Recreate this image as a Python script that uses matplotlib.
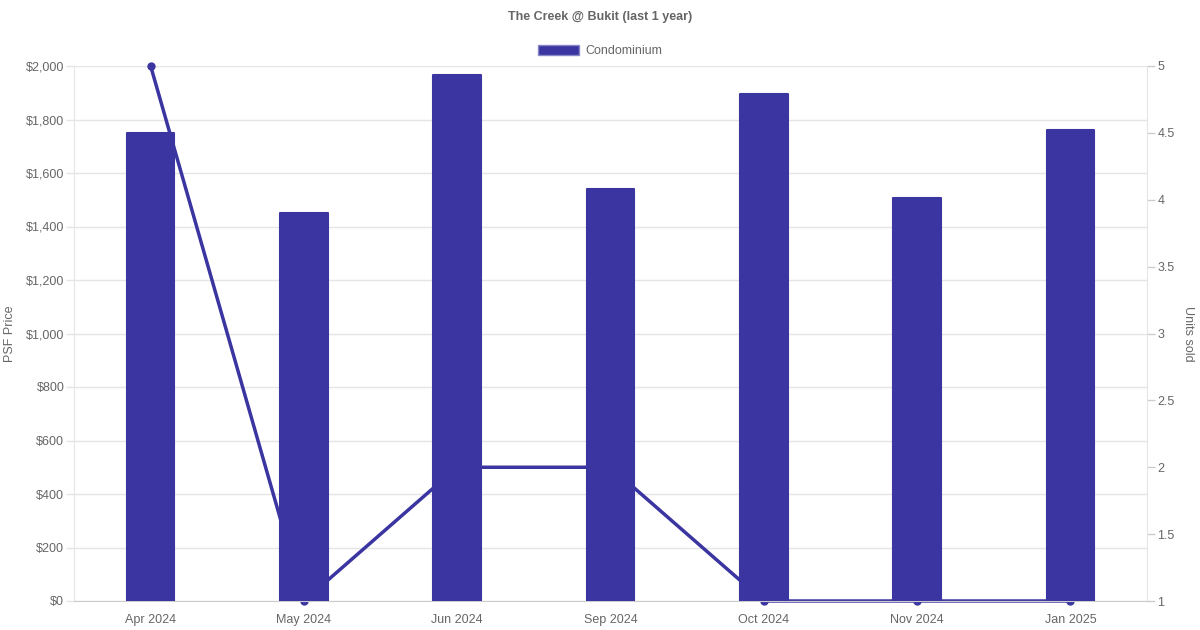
import matplotlib.pyplot as plt
from matplotlib.ticker import FuncFormatter, MultipleLocator
from matplotlib.patches import Patch
from matplotlib.transforms import blended_transform_factory

plt.rcParams['font.family'] = ['Liberation Sans', 'DejaVu Sans']

months = ["Apr 2024", "May 2024", "Jun 2024", "Sep 2024", "Oct 2024", "Nov 2024", "Jan 2025"]
psf = [1750, 1450, 1965, 1540, 1895, 1505, 1760]
units = [5, 1, 2, 2, 1, 1, 1]

bar_color = "#3a35a0"
text_c = "#666666"
grid_c = "#e5e5e5"

fig = plt.figure(figsize=(12, 6.3), dpi=100)
ax = fig.add_axes([74 / 1200, 29 / 630, (1147 - 74) / 1200, (601 - 66) / 630])
ax2 = ax.twinx()

x = list(range(len(months)))

# line axis sits behind the bar axis
ax2.set_zorder(ax.get_zorder() - 1)
ax.patch.set_visible(False)
ax2.patch.set_facecolor('white')

ax.set_xlim(-0.5, len(months) - 0.5)
ax.set_ylim(0, 2000)
ax.yaxis.set_major_locator(MultipleLocator(200))

# horizontal grid (PSF ticks) drawn on the back axis so the line stays on top of it
tr = blended_transform_factory(ax2.transAxes, ax.transData)
for v in range(0, 2001, 200):
    ax2.plot([0, 1], [v, v], color=grid_c, lw=1, transform=tr, zorder=0)

ax2.plot(x, units, color=bar_color, lw=2.5, marker='o', ms=5, clip_on=False, zorder=2)
ax2.set_ylim(1, 5)
ax2.yaxis.set_major_locator(MultipleLocator(0.5))
ax2.yaxis.set_major_formatter(FuncFormatter(lambda v, p: f"{v:g}"))
ax2.set_ylabel("Units sold", color=text_c, fontsize=9, rotation=270, labelpad=14)

ax.bar(x, psf, width=0.31, color=bar_color, edgecolor=bar_color, linewidth=1.5,
       joinstyle='round', zorder=3)
ax.yaxis.set_major_formatter(FuncFormatter(lambda v, p: f"${v:,.0f}"))
ax.set_xticks(x)
ax.set_xticklabels(months)
ax.set_ylabel("PSF Price", color=text_c, fontsize=9, labelpad=7)

for a in (ax, ax2):
    for s in a.spines.values():
        s.set_visible(False)
    a.tick_params(colors=text_c, labelsize=9, width=1)
ax.tick_params(axis='y', color=grid_c, length=6, pad=1)
ax.tick_params(axis='x', length=0, pad=15.5)
ax2.tick_params(axis='y', color="#cccccc", length=6, pad=1.5)
ax.spines['bottom'].set_visible(True)
ax.spines['bottom'].set_color("#cccccc")
ax.spines['left'].set_visible(True)
ax.spines['left'].set_color(grid_c)
ax2.spines['right'].set_visible(True)
ax2.spines['right'].set_color(grid_c)

for lbl in ax.get_xticklabels():
    lbl.set_va('baseline')

fig.text(0.5, 1 - 17 / 630, "The Creek @ Bukit (last 1 year)", ha='center', va='center',
         fontsize=9, fontweight='bold', color=text_c)
fig.legend(handles=[Patch(facecolor=bar_color, edgecolor="#8a87c8", label="Condominium")],
           loc='center', bbox_to_anchor=(0.5, 1 - 51 / 630), frameon=False, fontsize=9,
           labelcolor=text_c, handlelength=3.3, handleheight=0.9, handletextpad=0.5)

fig.savefig("out.png", dpi=100, facecolor='white')
